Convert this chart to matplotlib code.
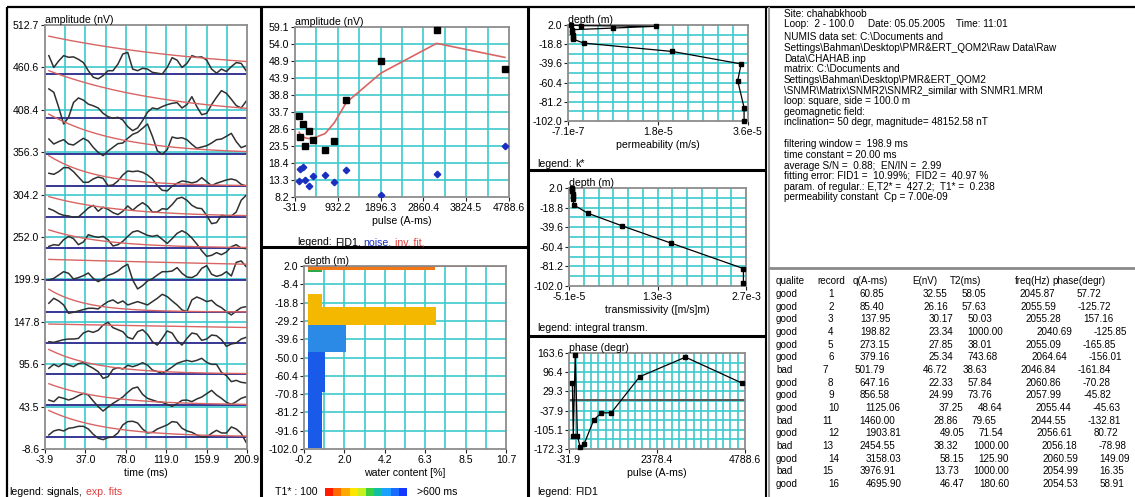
import numpy as np
import matplotlib
matplotlib.use("Agg")
import matplotlib.pyplot as plt
from matplotlib.lines import Line2D
from matplotlib.patches import Rectangle

plt.rcParams['font.family'] = ['Liberation Sans', 'DejaVu Sans']

# ---------------------------------------------------------------- data
quality = ['good', 'good', 'good', 'good', 'good', 'good', 'bad', 'good',
           'good', 'good', 'bad', 'good', 'bad', 'good', 'bad', 'good']
record = list(range(1, 17))
q_pulse = [60.85, 85.40, 137.95, 198.82, 273.15, 379.16, 501.79, 647.16,
           856.58, 1125.06, 1460.00, 1903.81, 2454.55, 3158.03, 3976.91, 4695.90]
e_amp = [32.55, 26.16, 30.17, 23.34, 27.85, 25.34, 46.72, 22.33,
         24.99, 37.25, 28.86, 49.05, 38.32, 58.15, 13.73, 46.47]
t2_ms = [58.05, 57.63, 50.03, 1000.00, 38.01, 743.68, 38.63, 57.84,
         73.76, 48.64, 79.65, 71.54, 1000.00, 125.90, 1000.00, 180.60]
freq_hz = [2045.87, 2055.59, 2055.28, 2040.69, 2055.09, 2064.64, 2046.84, 2060.86,
           2057.99, 2055.44, 2044.55, 2056.61, 2056.18, 2060.59, 2054.99, 2054.53]
phase_deg = [57.72, -125.72, 157.16, -125.85, -165.85, -156.01, -161.84, -70.28,
             -45.82, -45.63, -132.81, 80.72, -78.98, 149.09, 16.35, 58.91]

# noise level and inverted fit for the good records (in order of pulse moment)
noise_nv = [13.0, 16.5, 17.2, 13.2, 11.5, 14.4, 14.7, 12.7, 16.3, 8.7, 15.2, 23.6]
inv_fit_nv = [27.6, 27.0, 26.3, 25.9, 25.7, 25.8, 27.2, 30.5, 36.5, 45.3, 54.2, 50.0]

# stacked signal display: vertical offset of each good record's trace (nV)
trace_offset = [6.2, 45.5, 83.6, 121.7, 159.9, 199.2, 238.5, 276.7, 314.8, 354.1, 398.4, 452.5]
sig_time = np.arange(0, 201, 5)
sig_r01 = [2.5, 7.4, 9.0, 7.4, 10.7, 11.5, 13.1, 13.1, 9.8, 3.3, -1.6, -3.3, -0.8, 0.0, 4.9, 14.8,
           18.9, 19.3, 17.2, 9.8, 4.9, 5.7, 9.8, 12.3, 14.8, 18.9, 18.0, 10.7, 7.4, 5.7, 2.5, 0.0,
           0.0, 4.5, 8.2, 4.9, 4.9, 12.3, 9.8, 4.5, -6.6]
sig_r02 = [6.1, 4.1, 9.8, 8.2, 6.1, 8.2, 11.5, 14.3, 12.3, 4.9, -2.0, -7.4, -2.5, 2.0, 5.7, 9.8,
           15.6, 20.5, 22.1, 13.1, 8.2, 6.1, 4.1, 3.3, 0.8, -1.6, 1.6, 5.7, 6.1, 4.1, 7.4, 9.8,
           13.9, 18.0, 12.3, 8.2, 3.3, 0.8, 4.1, 8.2, 10.2]
sig_r03 = [7.0, 11.9, 9.0, 13.1, 11.0, 9.0, 12.7, 13.9, 10.2, 7.0, 2.9, -5.3, -3.3, 5.7, 7.8, 6.1,
           10.7, 9.0, 11.0, 13.9, 11.0, 4.9, 2.9, 0.8, 4.5, 8.6, 13.1, 15.2, 16.8, 15.2, 16.8, 19.3,
           14.3, 11.9, 11.9, 2.0, -2.0, -9.4, -7.8, -10.2, -11.0]
sig_r04 = [1.6, 0.8, 2.5, 4.1, 4.9, 4.9, 5.7, 12.3, 14.8, 13.1, 15.6, 22.1, 25.4, 18.9, 16.4, 13.9,
           7.0, 4.9, 13.9, 16.4, 10.7, 1.6, -2.5, 5.7, 14.8, 12.3, 2.9, -2.5, 5.7, 12.3, 11.0, 3.3,
           4.9, 9.8, 9.0, 4.1, -4.1, -1.2, 0.0, 4.9, 7.0]
sig_r05 = [10.7, 16.8, 13.5, 8.6, -1.6, -0.4, 1.2, 2.9, 4.5, 4.5, 3.7, 8.6, 12.7, 14.8, 10.7, 13.5,
           8.6, 10.7, 12.7, 10.7, 8.6, 12.7, 16.8, 21.7, 18.9, 13.5, 8.6, 2.5, 0.4, 14.8, 18.4, 16.0,
           12.7, 14.3, 8.6, 5.3, 0.4, -3.7, 1.2, 5.3, 6.5]
sig_r06 = [0.0, 2.0, 6.1, 10.2, 8.2, 1.2, 2.9, 5.3, 8.6, 2.0, -2.0, 1.2, 5.7, 7.8, 11.0, 16.0,
           19.3, 0.0, -11.0, -7.0, -1.2, 1.6, 6.1, 10.2, 10.2, 11.0, 15.2, 8.2, 3.7, 2.9, 6.1, 14.3,
           17.6, 7.0, 4.5, 6.1, 10.2, 4.9, 21.7, 23.4, 16.4]
sig_r08 = [2.0, 4.1, 3.3, 10.2, 14.3, 11.5, 4.1, 7.4, 16.4, 14.3, 13.1, 14.3, 10.2, 2.5, 4.1, 8.2,
           14.3, 19.7, 21.3, 18.4, 15.6, 14.3, 15.6, 10.7, 5.7, 11.5, 18.0, 21.3, 18.0, 12.3, 4.9, -3.3,
           -10.2, -9.0, -5.7, -8.2, -4.9, 1.6, 4.1, 0.0, -0.8]
sig_r09 = [10.2, 7.8, 4.1, 2.0, 1.2, -0.4, 0.0, 5.3, 11.0, 14.3, 7.0, 11.9, 9.4, 5.3, 2.9, 7.0,
           13.5, 8.2, 13.5, 17.6, 13.5, 6.1, 6.1, 10.2, 9.4, 15.2, 22.5, 24.2, 20.5, 14.3, 11.0, 10.2,
           2.0, -8.2, -7.0, 2.0, 1.2, 1.2, 6.1, 20.5, 26.6]
sig_r10 = [15.6, 14.3, 17.6, 22.5, 22.5, 17.6, 11.0, 4.5, 4.5, 8.6, 11.0, 9.4, 0.4, 1.2, 6.1, 13.5,
           18.4, 17.6, 18.4, 16.8, 13.5, 8.6, 0.4, -5.3, -6.1, -0.4, 3.3, 6.1, 5.3, 3.7, 5.3, 10.2,
           5.3, 0.4, 3.3, 5.3, 7.4, 8.6, 7.0, 2.0, 0.0]
sig_r12 = [18.4, 12.3, 15.2, 17.6, 12.3, 11.0, 15.2, 19.3, 16.0, 8.2, 2.0, -2.0, 3.7, 8.2, 12.7, 13.5,
           19.3, 24.2, 26.6, 31.6, 36.9, 21.7, 4.0, -0.4, 5.3, 20.9, 19.3, 20.0, 17.6, 11.9, 7.0, 8.6,
           10.2, 13.5, 17.6, 18.4, 21.7, 25.4, 15.2, 7.8, 10.2]
sig_r14 = [35.7, 31.6, 13.0, -7.4, 0.8, 19.0, 24.6, 22.0, 17.0, 15.0, 12.3, 5.7, 1.6, -0.4, 0.8, -2.5,
           -10.7, -15.6, -12.3, -3.3, 7.0, 12.3, 11.0, 14.0, 16.4, 18.0, 18.9, 12.3, 16.4, 26.2, 14.0, 4.0,
           5.7, 16.4, 25.4, 33.6, 30.3, 23.0, 15.2, 12.3, 20.5]
sig_r16 = [22.5, 8.0, 16.0, 22.5, 20.5, 21.0, 18.0, 14.0, 4.0, -4.0, -6.0, -2.0, 4.0, 4.0, 12.0, 24.5,
           26.5, 6.0, 4.0, 7.0, 6.0, 2.0, 1.0, 0.0, 8.0, 20.0, 17.0, 8.0, 13.0, 22.5, 20.5, 21.0,
           17.0, 6.0, 1.0, 6.0, 3.0, 9.0, 14.0, 13.0, 4.0]
signals = [sig_r01, sig_r02, sig_r03, sig_r04, sig_r05, sig_r06,
           sig_r08, sig_r09, sig_r10, sig_r12, sig_r14, sig_r16]

# water content layers
layer_top = [1.9, 1.3, -0.3, -13.8, -21.3, -31.3, -46.8, -69.5]
layer_bot = [1.3, -0.3, -1.6, -21.3, -31.3, -46.8, -69.5, -101.6]
layer_w = [10.6, 6.85, 0.75, 0.75, 6.9, 2.05, 0.92, 0.75]
layer_col = ['#e23a12', '#f07818', '#2fa84a', '#f5b800', '#f5b800', '#2a8ae6', '#1a5ae8', '#1a5ae8']
t1_scale_cols = ['#ff1a00', '#ff6a00', '#ffa800', '#ffe600', '#c8f020', '#3cd040',
                 '#10c0a0', '#1aa0ff', '#1a6cff', '#1438ff']

# permeability and transmissivity profiles
perm_depth = [1.9, 1.3, 0.6, -1.3, -3.1, -6.0, -9.0, -12.0, -13.5, -17.6, -26.7, -40.2, -58.4,
              -87.5, -101.5]
perm_k = [0.0, 1.9e-6, 1.73e-5, 8.5e-6, 2.0e-7, 2.0e-7, 3.0e-7, 3.0e-7, 4.0e-7, 2.5e-6, 2.06e-5,
          3.46e-5, 3.39e-5, 3.52e-5, 3.52e-5]
trans_depth = [1.6, 0.5, -1.5, -4.0, -7.0, -10.0, -16.1, -24.9, -38.1, -56.6, -83.5, -99.2]
trans_t = [0.0, 1.0e-6, 3.0e-6, 6.0e-6, 9.0e-6, 1.2e-5, 2.6e-5, 2.47e-4, 7.71e-4,
           1.54e-3, 2.66e-3, 2.66e-3]

# axis tick labels
sig_yt = ['-8.6', '43.5', '95.6', '147.8', '199.9', '252.0', '304.2', '356.3', '408.4', '460.6', '512.7']
sig_xt = ['-3.9', '37.0', '78.0', '119.0', '159.9', '200.9']
amp_yt = ['8.2', '13.3', '18.4', '23.5', '28.6', '33.7', '38.8', '43.9', '48.9', '54.0', '59.1']
amp_xt = ['-31.9', '932.2', '1896.3', '2860.4', '3824.5', '4788.6']
wc_yt = ['-102.0', '-91.6', '-81.2', '-70.8', '-60.4', '-50.0', '-39.6', '-29.2', '-18.8', '-8.4', '2.0']
wc_xt = ['-0.2', '2.0', '4.2', '6.3', '8.5', '10.7']
dep_yt = ['-102.0', '-81.2', '-60.4', '-39.6', '-18.8', '2.0']
perm_xt = ['-7.1e-7', '1.8e-5', '3.6e-5']
trans_xt = ['-5.1e-5', '1.3e-3', '2.7e-3']
ph_yt = ['-172.3', '-105.1', '-37.9', '29.3', '96.4', '163.6']
ph_xt = ['-31.9', '2378.4', '4788.6']

info_lines = [
    "Site: chahabkhoob",
    "Loop:  2 - 100.0     Date: 05.05.2005    Time: 11:01",
    "NUMIS data set: C:\\Documents and",
    "Settings\\Bahman\\Desktop\\PMR&ERT_QOM2\\Raw Data\\Raw",
    "Data\\CHAHAB.inp",
    "matrix: C:\\Documents and",
    "Settings\\Bahman\\Desktop\\PMR&ERT_QOM2",
    "\\SNMR\\Matrix\\SNMR2\\SNMR2_similar with SNMR1.MRM",
    "loop: square, side = 100.0 m",
    "geomagnetic field:",
    "inclination= 50 degr, magnitude= 48152.58 nT",
    "filtering window =  198.9 ms",
    "time constant = 20.00 ms",
    "average S/N =  0.88;  EN/IN =  2.99",
    "fitting error: FID1 =  10.99%;  FID2 =  40.97 %",
    "param. of regular.: E,T2* =  427.2;  T1* =  0.238",
    "permeability constant  Cp = 7.00e-09",
]
table_head = ['qualite', 'record', 'q(A-ms)', 'E(nV)', 'T2(ms)', 'freq(Hz)', 'phase(degr)']

# ---------------------------------------------------------------- figure
W, H = 1135, 497
fig = plt.figure(figsize=(W / 100, H / 100), dpi=100)
fig.patch.set_facecolor('white')
R = fig.canvas.get_renderer()

GRID = '#3ccacc'
FRAME = '#8c8c8c'
FS = 7.6
RED = '#d86464'


def fx(x):
    return x / W


def fy(y):
    return 1 - y / H


def fig_line(x0, y0, x1, y1, color='k', lw=1.6):
    fig.add_artist(Line2D([fx(x0), fx(x1)], [fy(y0), fy(y1)], transform=fig.transFigure,
                          color=color, lw=lw, solid_capstyle='butt'))


def seq_text(x, y, parts, size=FS, gap=3.2):
    for s, c in parts:
        t = fig.text(fx(x), fy(y), s, color=c, fontsize=size, ha='left', va='center')
        x += t.get_window_extent(R).width + gap


def panel(box, xlim, ylim, xlabels, ylabels, nxg, nyg, title, xlab):
    x0, y0, x1, y1 = box
    ax = fig.add_axes([fx(x0), fy(y1), (x1 - x0) / W, (y1 - y0) / H])
    ax.set_xlim(xlim)
    ax.set_ylim(ylim)
    ax.set_facecolor('white')
    for v in np.linspace(xlim[0], xlim[1], nxg + 1)[1:-1]:
        ax.axvline(v, color=GRID, lw=1.2, zorder=0.5)
    for v in np.linspace(ylim[0], ylim[1], nyg + 1)[1:-1]:
        ax.axhline(v, color=GRID, lw=1.2, zorder=0.5)
    ax.set_xticks(np.linspace(xlim[0], xlim[1], len(xlabels)))
    ax.set_xticklabels(xlabels, fontsize=FS)
    ax.set_yticks(np.linspace(ylim[0], ylim[1], len(ylabels)))
    ax.set_yticklabels(ylabels, fontsize=FS)
    ax.tick_params(length=3, width=0.8, color='#222222', pad=1.2)
    for s in ax.spines.values():
        s.set_color(FRAME)
        s.set_linewidth(1.3)
    ax.text(0.0, 1.0, title, transform=ax.transAxes, ha='left', va='bottom', fontsize=FS)
    ax.set_xlabel(xlab, fontsize=FS, labelpad=2.5)
    return ax


good = [i for i, qq in enumerate(quality) if qq == 'good']
q_good = np.array([q_pulse[i] for i in good])

# --- stacked FID signals
ax = panel((45, 25, 247, 449), (-3.9, 200.9), (-8.6, 512.7), sig_xt, sig_yt, 10, 10,
           'amplitude (nV)', 'time (ms)')
for k, i in enumerate(good):
    base = trace_offset[k]
    ax.plot([-3.9, 200.9], [base, base], color='#363696', lw=1.4, zorder=1)
    ax.plot(sig_time, base + np.array(signals[k]), color='#303030', lw=1.1, zorder=2)
    ax.plot(sig_time, base + e_amp[i] * np.exp(-sig_time / t2_ms[i]), color=RED, lw=1.0, zorder=3)
seq_text(9, 492, [('legend:', 'k'), ('signals,', 'k'), ('exp. fits', '#e03c3c')])

# --- amplitude vs pulse moment
ax = panel((295, 27, 509, 197), (-31.9, 4788.6), (8.2, 59.1), amp_xt, amp_yt, 10, 10,
           'amplitude (nV)', 'pulse (A-ms)')
ax.plot(q_good, inv_fit_nv, color=RED, lw=1.2, zorder=3)
ax.plot(q_good, [e_amp[i] for i in good], 's', color='k', ms=4.6, zorder=4, clip_on=False)
ax.plot(q_good, noise_nv, 'D', color='#1a2fc0', ms=3.3, zorder=4)
seq_text(297, 242, [('legend:', 'k'), ('FID1,', 'k'), ('noise,', '#1a2fc0'), ('inv. fit,', '#e03c3c')])

# --- water content profile
ax = panel((304, 266, 506, 449), (-0.2, 10.7), (-102.0, 2.0), wc_xt, wc_yt, 10, 10,
           'depth (m)', 'water content [%]')
for top, bot, w, c in zip(layer_top, layer_bot, layer_w, layer_col):
    ax.barh((top + bot) / 2, w, height=top - bot, left=0.0, color=c, edgecolor='none', zorder=2)
fig.text(fx(275), fy(492), 'T1* : 100', fontsize=FS, ha='left', va='center')
for j, c in enumerate(t1_scale_cols):
    fig.add_artist(Rectangle((fx(325 + 8.2 * j), fy(496)), 8.3 / W, 8 / H,
                             transform=fig.transFigure, color=c, lw=0))
fig.text(fx(417), fy(492), '>600 ms', fontsize=FS, ha='left', va='center')

# --- permeability
ax = panel((568, 25, 748, 121), (-7.1e-7, 3.6e-5), (-102.0, 2.0), perm_xt, dep_yt, 12, 10,
           'depth (m)', 'permeability (m/s)')
ax.plot(perm_k, perm_depth, '-s', color='k', lw=0.9, ms=2.8, zorder=4, clip_on=False)
seq_text(537, 164, [('legend:', 'k'), ('k*', 'k')])

# --- transmissivity
ax = panel((569, 188, 746, 286), (-5.1e-5, 2.7e-3), (-102.0, 2.0), trans_xt, dep_yt, 12, 10,
           'depth (m)', 'transmissivity ([m/s]m)')
ax.plot(trans_t, trans_depth, '-s', color='k', lw=0.9, ms=2.8, zorder=4, clip_on=False)
seq_text(537, 328, [('legend:', 'k'), ('integral transm.', 'k')])

# --- phase
ax = panel((569, 353, 745, 449), (-31.9, 4788.6), (-172.3, 163.6), ph_xt, ph_yt, 24, 10,
           'phase (degr)', 'pulse (A-ms)')
ax.axhline(0, color='#555555', lw=1.4, zorder=2)
ax.plot(q_good, [phase_deg[i] for i in good], '-s', color='k', lw=0.9, ms=2.8,
        zorder=4, clip_on=False)
seq_text(537, 492, [('legend:', 'k'), ('FID1', 'k')])

# --- info text: header pair, file block, then the processing block after a blank line
LH = 10.6
info_y = [14.0, 23.6]
y = 37.5
for _ in range(9):
    info_y.append(y)
    y += LH
y += 11.5
for _ in range(6):
    info_y.append(y)
    y += LH
for line, yy in zip(info_lines, info_y):
    fig.text(fx(784), fy(yy), line, fontsize=7.2, ha='left', va='center')

# --- results table
TFS = 7.1
col_x = [776, 817, 853, 912, 950, 1015, 1052]
for x, h in zip(col_x, table_head):
    fig.text(fx(x), fy(281), h, fontsize=TFS, ha='left', va='center')
first_x = [776, 828, 860, 923, 962, 1020, 1077]


def cells(i):
    return [quality[i], str(record[i]), '%.2f' % q_pulse[i], '%.2f' % e_amp[i],
            '%.2f' % t2_ms[i], '%.2f' % freq_hz[i], '%.2f' % phase_deg[i]]


# spacing between fields taken from the first row, then carried along each row
widths0 = []
for s in cells(0):
    t = fig.text(0, 0, s, fontsize=TFS)
    widths0.append(t.get_window_extent(R).width)
    t.remove()
gaps = [first_x[j] - first_x[j - 1] - widths0[j - 1] for j in range(1, 7)]
for i in range(16):
    yy = 294 + 12.67 * i
    x = 776
    for j, s in enumerate(cells(i)):
        t = fig.text(fx(x), fy(yy), s, fontsize=TFS, ha='left', va='center')
        if j < 6:
            x += t.get_window_extent(R).width + gaps[j]

# ---------------------------------------------------------------- frames
fig_line(7, 7, 1135, 7)
fig_line(7, 7, 7, 497)
fig_line(261, 7, 261, 497, lw=2.2)
fig_line(528, 7, 528, 497, lw=2.2)
fig_line(261, 247, 528, 247, lw=2.2)
fig_line(528, 170, 766, 170, lw=2.2)
fig_line(528, 336, 766, 336, lw=2.2)
fig_line(766, 7, 766, 497, lw=1.5)
fig_line(768.5, 7, 768.5, 497, color='#9a9a9a', lw=1.5)
fig_line(768, 268, 1135, 268, color='#8a8a8a', lw=2.0)

fig.savefig('out.png', dpi=100, facecolor='white')
